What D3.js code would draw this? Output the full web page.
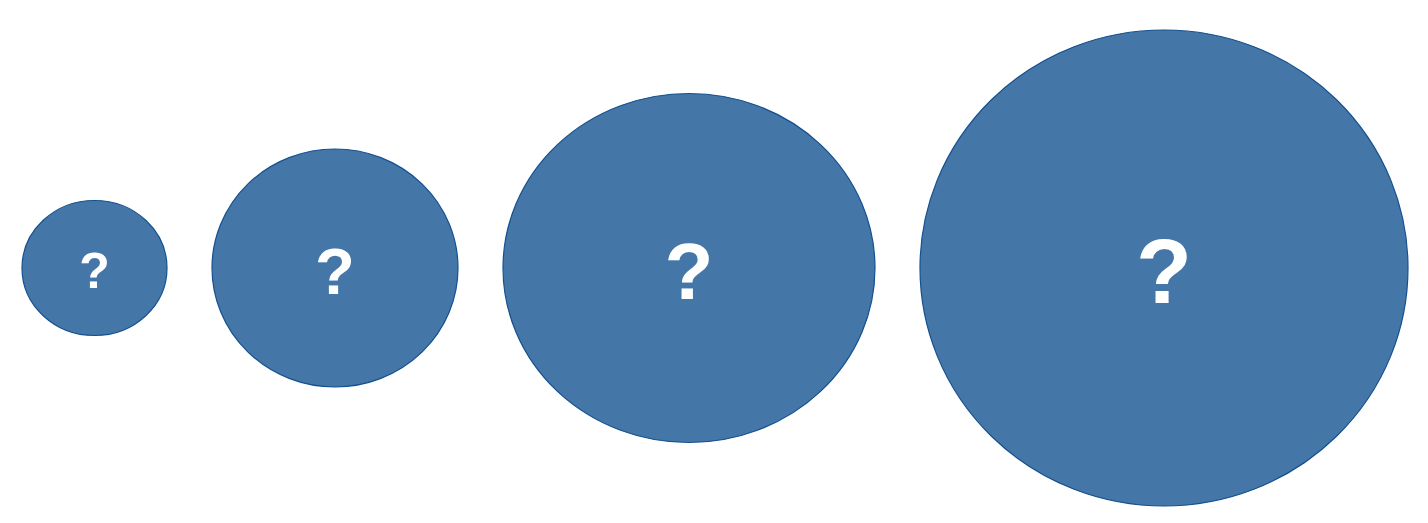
<!DOCTYPE html>
<html>
<head>
<meta charset="utf-8">
<script src="https://cdn.jsdelivr.net/npm/d3@7"></script>
<style>
  body { margin: 0; background: #fff; }
</style>
</head>
<body>
<div id="chart"></div>
<script>
"use strict";

// data (width / height of each bubble, arbitrary units)
const labels = ["?", "?", "?", "?"];
const widthValues = [14.5, 24.6, 37.2, 48.8];
const heightValues = [13.5, 23.8, 34.9, 47.6];

function bubbles(div) {
    const WIDTH = 1428, HEIGHT = 523;
    const LEFT = 22, GAP = 45, MID = 268;

    let svg = d3.select(div)
        .append("svg")
        .attr("width", WIDTH)
        .attr("height", HEIGHT);

    // size scale: value -> full diameter in px
    let size = d3.scaleLinear().domain([0, 50]).range([0, 500]);
    // font size grows with the sqrt of the bubble width
    let font = d3.scaleSqrt().domain([0, size(50)]).range([0, 4.15 * Math.sqrt(size(50))]);

    let data = labels.map(function(l, i) {
        return {label: l, w: size(widthValues[i]), h: size(heightValues[i])};
    });
    // lay the bubbles out left to right with a fixed gap
    let x = LEFT;
    data.forEach(function(d) {
        d.cx = x + d.w / 2;
        x += d.w + GAP;
    });

    let g = svg.selectAll(".bubble")
        .data(data)
        .enter()
        .append("g")
        .attr("class", "bubble");

    g.append("ellipse")
        .attr("cx", d => d.cx)
        .attr("cy", MID)
        .attr("rx", d => d.w / 2)
        .attr("ry", d => d.h / 2)
        .attr("fill", "#4477a8")
        .attr("stroke", "#14508f")
        .attr("stroke-width", 1.2);

    g.append("text")
        .attr("x", d => d.cx)
        .attr("y", d => MID + 2 + 0.365 * font(d.w))
        .attr("text-anchor", "middle")
        .style("font-family", "'Liberation Sans', Arial, sans-serif")
        .style("font-weight", "bold")
        .style("font-size", d => font(d.w) + "px")
        .attr("fill", "#fff")
        .text(d => d.label);
}

bubbles("#chart");
</script>
</body>
</html>
